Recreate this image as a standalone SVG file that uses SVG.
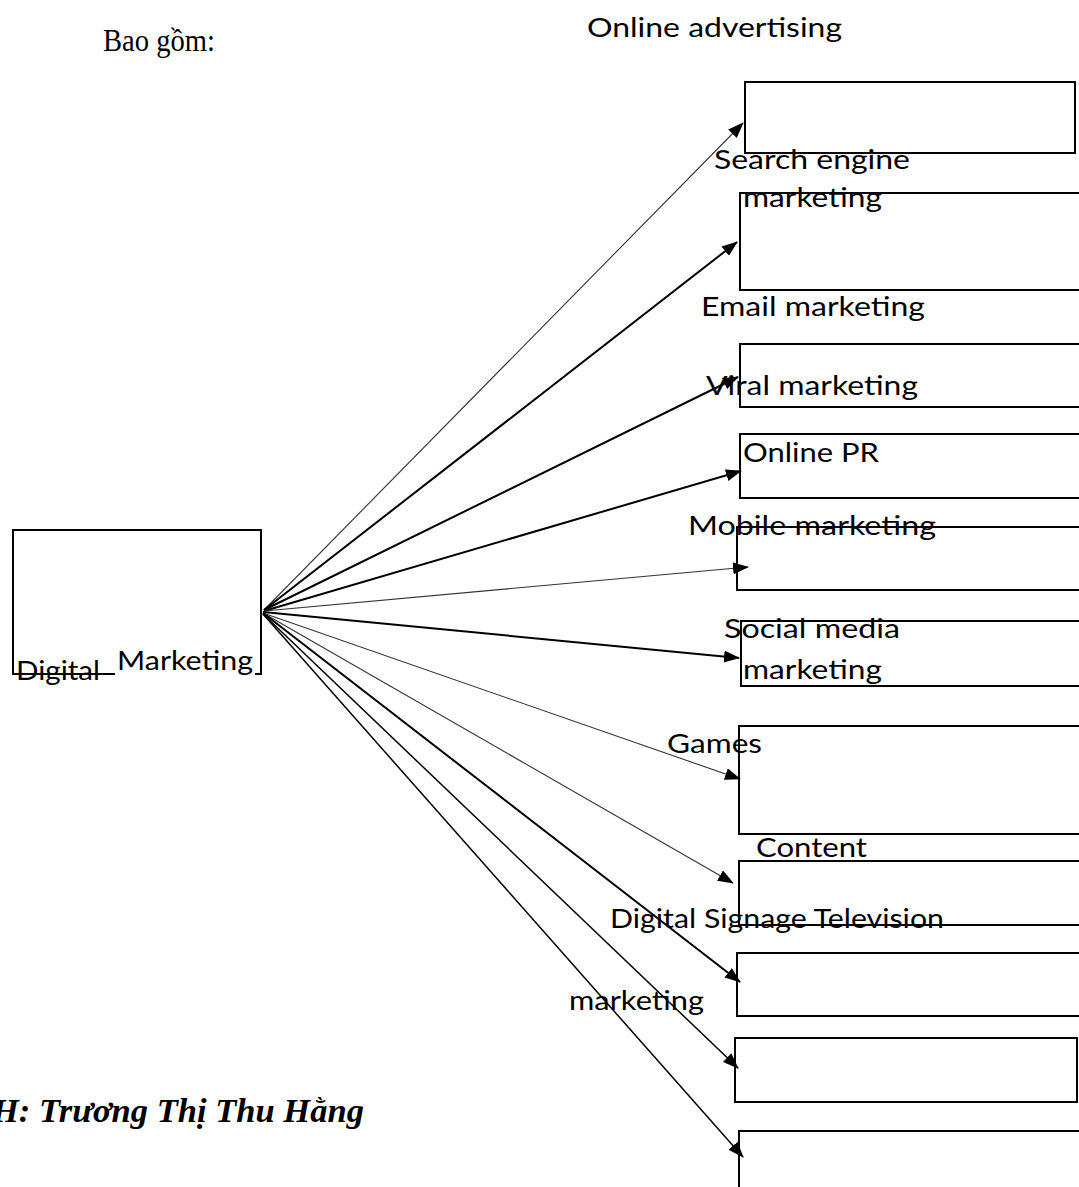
<svg xmlns="http://www.w3.org/2000/svg" width="1079" height="1187" viewBox="0 0 1079 1187">
<style>
.bg{fill:#fff}
.box{fill:none;stroke:#000;stroke-width:2}
.lbl{font-family:Lato,"Open Sans","Liberation Sans",sans-serif;font-size:27.5px;fill:#000}
.ser{font-family:"Liberation Serif","Times New Roman",serif;fill:#000}
.c{fill:none;stroke:#000}
.t1{stroke-width:1.1;stroke:#333}
.t2{stroke-width:2}
.t15{stroke-width:1.5}
</style>
<defs>
<marker id="ah" viewBox="0 0 16 12" markerWidth="16" markerHeight="12" refX="15" refY="6" orient="auto" markerUnits="userSpaceOnUse">
<path d="M0,0 L16,6 L0,12 z" fill="#000"/>
</marker>
</defs>
<rect class="bg" x="0" y="0" width="1079" height="1187"/>

<text class="ser" x="103" y="51" font-size="32" textLength="112" lengthAdjust="spacingAndGlyphs">Bao gồm:</text>
<text class="ser" x="-8" y="1122" font-size="34" font-weight="bold" font-style="italic" textLength="372" lengthAdjust="spacingAndGlyphs">H: Trương Thị Thu Hằng</text>

<g id="connectors">
<line class="c t1" x1="264" y1="610" x2="743" y2="123" marker-end="url(#ah)"/>
<line class="c t2" x1="264" y1="610" x2="737" y2="242" marker-end="url(#ah)"/>
<line class="c t2" x1="264" y1="610" x2="738" y2="377" marker-end="url(#ah)"/>
<line class="c t2" x1="264" y1="611" x2="741" y2="471" marker-end="url(#ah)"/>
<line class="c t1" x1="264" y1="611" x2="748" y2="567" marker-end="url(#ah)"/>
<line class="c t2" x1="263" y1="612" x2="739" y2="658" marker-end="url(#ah)"/>
<line class="c t1" x1="263" y1="613" x2="740" y2="779" marker-end="url(#ah)"/>
<line class="c t1" x1="263" y1="613" x2="733" y2="883" marker-end="url(#ah)"/>
<line class="c t2" x1="263" y1="613" x2="740" y2="982" marker-end="url(#ah)"/>
<line class="c t15" x1="263" y1="614" x2="738" y2="1068" marker-end="url(#ah)"/>
<line class="c t15" x1="263" y1="614" x2="743" y2="1157" marker-end="url(#ah)"/>
</g>

<g id="digital-marketing">
<text class="lbl" x="16" y="680" textLength="84" lengthAdjust="spacingAndGlyphs">Digital</text>
<rect class="box" x="13" y="530" width="248" height="144"/>
<rect class="bg" x="115" y="648" width="140" height="32"/>
<text class="lbl" x="117" y="670" textLength="136" lengthAdjust="spacingAndGlyphs">Marketing</text>
</g>

<g id="online-advertising">
<text class="lbl" x="587" y="37" textLength="255" lengthAdjust="spacingAndGlyphs">Online advertising</text>
<rect class="box" x="745" y="82" width="330" height="71" stroke-width="2.2"/>
</g>

<g id="search-engine-marketing">
<rect class="box" x="740" y="193" width="345" height="97"/>
<text class="lbl" x="714" y="169" textLength="196" lengthAdjust="spacingAndGlyphs">Search engine</text>
<text class="lbl" x="743" y="207" textLength="139" lengthAdjust="spacingAndGlyphs">marketing</text>
</g>

<g id="email-marketing">
<text class="lbl" x="701" y="316" textLength="224" lengthAdjust="spacingAndGlyphs">Email marketing</text>
</g>

<g id="viral-marketing">
<rect class="box" x="740" y="344" width="345" height="63"/>
<text class="lbl" x="706" y="395" textLength="212" lengthAdjust="spacingAndGlyphs">Viral marketing</text>
</g>

<g id="online-pr">
<rect class="box" x="740" y="434" width="345" height="64"/>
<text class="lbl" x="743" y="462" textLength="136" lengthAdjust="spacingAndGlyphs">Online PR</text>
</g>

<g id="mobile-marketing">
<text class="lbl" x="688" y="535" textLength="248" lengthAdjust="spacingAndGlyphs">Mobile marketing</text>
<rect class="box" x="737" y="527" width="348" height="63" stroke-width="1.5"/>
</g>

<g id="social-media-marketing">
<text class="lbl" x="724" y="638" textLength="176" lengthAdjust="spacingAndGlyphs">Social media</text>
<text class="lbl" x="743" y="679" textLength="139" lengthAdjust="spacingAndGlyphs">marketing</text>
<rect class="box" x="741" y="621" width="344" height="65" stroke-width="1.5"/>
</g>

<g id="games">
<text class="lbl" x="667" y="753" textLength="95" lengthAdjust="spacingAndGlyphs">Games</text>
<rect class="box" x="739" y="726" width="346" height="108"/>
</g>

<g id="content">
<text class="lbl" x="756" y="857" textLength="111" lengthAdjust="spacingAndGlyphs">Content</text>
<rect class="box" x="739" y="861" width="346" height="64"/>
</g>

<g id="digital-signage-television">
<text class="lbl" x="610" y="928" textLength="334" lengthAdjust="spacingAndGlyphs">Digital Signage Television</text>
<rect class="box" x="737" y="953" width="348" height="63"/>
</g>

<g id="marketing">
<text class="lbl" x="569" y="1010" textLength="135" lengthAdjust="spacingAndGlyphs">marketing</text>
<rect class="box" x="735" y="1038" width="342" height="64"/>
</g>

<g id="box-11">
<rect class="box" x="739" y="1131" width="346" height="80"/>
</g>
</svg>
